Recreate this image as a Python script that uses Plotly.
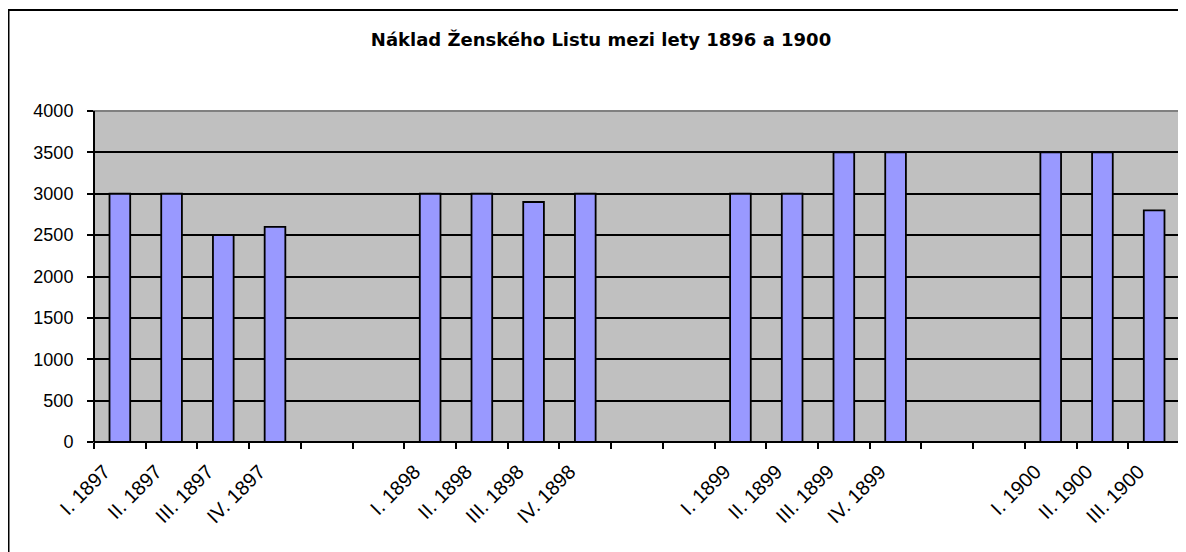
import plotly.graph_objects as go

# Category slots (blank slots are the empty gaps between years)
quarters = ["I. 1897", "II. 1897", "III. 1897", "IV. 1897", "", "",
            "I. 1898", "II. 1898", "III. 1898", "IV. 1898", "", "",
            "I. 1899", "II. 1899", "III. 1899", "IV. 1899", "", "",
            "I. 1900", "II. 1900", "III. 1900"]
naklad = [3000, 3000, 2500, 2600, None, None,
          3000, 3000, 2900, 3000, None, None,
          3000, 3000, 3500, 3500, None, None,
          3500, 3500, 2800]
y_ticks = [0, 500, 1000, 1500, 2000, 2500, 3000, 3500, 4000]

title_text = "Náklad Ženského Listu mezi lety 1896 a 1900"

positions = list(range(len(quarters)))
label_pos = [p for p, q in zip(positions, quarters) if q]
label_txt = [q for q in quarters if q]

# page has an 8px body margin: the figure starts at page (8, 8)
OFF = 8
W, H = 1186 - OFF, 552 - OFF
L, R, T, B = 86, 6, 103, 110
pw, ph = W - L - R, H - T - B

def px_x(px):
    return (px - OFF - L) / pw

def px_y(py):
    return (H - B - (py - OFF)) / ph

fig = go.Figure()
fig.add_trace(go.Bar(
    x=positions, y=naklad, width=0.4,
    marker=dict(color="#9999FF", line=dict(color="black", width=1.8)),
    showlegend=False, hoverinfo="x+y",
))

font_main = "Arial, 'Liberation Sans', sans-serif"

fig.update_layout(
    width=W, height=H,
    margin=dict(l=L, r=R, t=T, b=B, pad=0),
    paper_bgcolor="white",
    plot_bgcolor="#C0C0C0",
    font=dict(family=font_main, size=18, color="black"),
    title=dict(text="<b>" + title_text + "</b>", x=(601 - OFF) / W, xanchor="center",
               y=1 - (40 - OFF) / H, yanchor="middle",
               font=dict(family="'DejaVu Sans', sans-serif", size=18, color="black")),
    xaxis=dict(
        range=[-0.5, len(quarters) - 0.5],
        tickmode="array", tickvals=[p - 0.3 for p in label_pos], ticktext=label_txt,
        tickangle=-45, ticks="", showgrid=False, zeroline=False,
        showline=False,
        tickfont=dict(family=font_main, size=20, color="black"),
        minor=dict(ticks="outside", tick0=-0.5, dtick=1, ticklen=6,
                   tickcolor="black", tickwidth=1.5, showgrid=False),
        ticklabelstandoff=13,
    ),
    yaxis=dict(
        range=[0, 4000], tickmode="array", tickvals=y_ticks,
        ticks="outside", ticklen=6, tickcolor="black", tickwidth=1.5,
        showgrid=True, gridcolor="black", gridwidth=1.5,
        zeroline=False, showline=False,
        tickfont=dict(family=font_main, size=18, color="black"),
        ticklabelstandoff=10,
    ),
    shapes=[
        # outer chart border
        dict(type="rect", xref="paper", yref="paper",
             x0=px_x(8.5), x1=px_x(1200), y0=px_y(570), y1=px_y(10),
             line=dict(color="black", width=2), fillcolor="rgba(0,0,0,0)", layer="above"),
        # plot area border (gray)
        dict(type="rect", xref="paper", yref="paper", x0=0, x1=1, y0=0, y1=1,
             line=dict(color="#808080", width=2), fillcolor="rgba(0,0,0,0)", layer="above"),
        # left axis
        dict(type="line", xref="paper", yref="paper", x0=0, x1=0, y0=0, y1=1,
             line=dict(color="black", width=2), layer="above"),
        # bottom axis
        dict(type="line", xref="paper", yref="paper", x0=0, x1=1, y0=0, y1=0,
             line=dict(color="black", width=2), layer="above"),
    ],
)

fig.write_html("out.html")
